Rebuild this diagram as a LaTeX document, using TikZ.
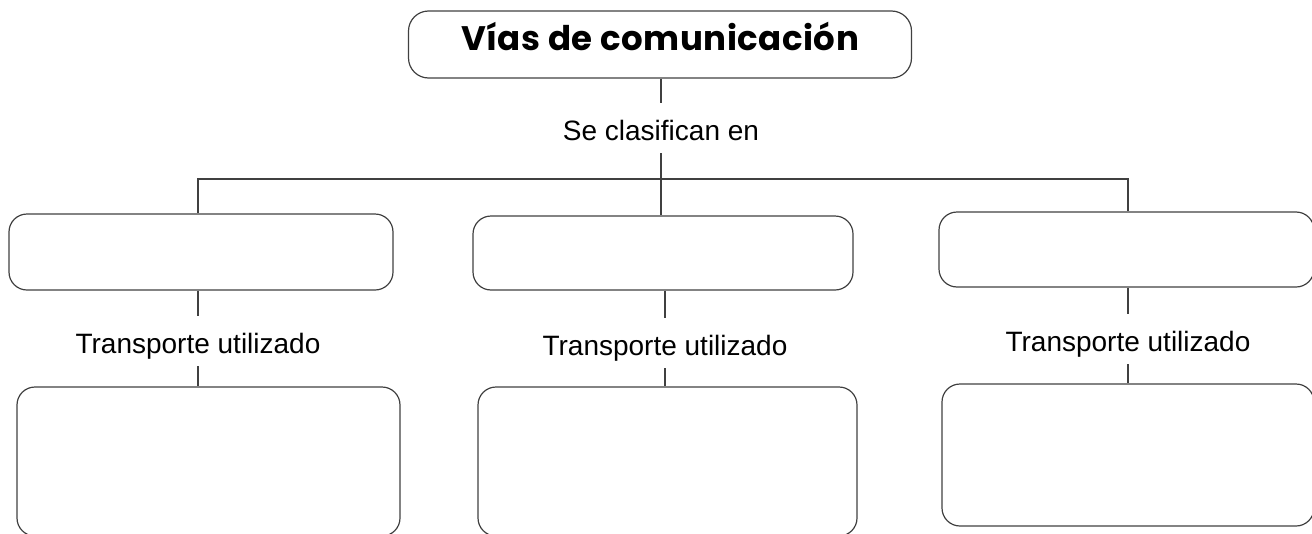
\documentclass[tikz,border=0pt]{standalone}
\usepackage{fontspec}
\setmainfont{Liberation Sans}
\newfontfamily\titulofont{Poppins}[LetterSpace=1.5]
\usetikzlibrary{positioning}

\begin{document}
\begin{tikzpicture}[x=1pt, y=-1pt]
			\tikzset{%
				caja/.style={rectangle, rounded corners=18pt, draw=black!75, line width=1.2pt, inner sep=0pt},
				titulo/.style={caja, rounded corners=20pt, minimum width=503pt, minimum height=67pt, font=\titulofont\bfseries\fontsize{34}{40}\selectfont, text height=20pt, text depth=9pt},
				etiqueta/.style={font=\fontsize{28}{33}\selectfont, text height=30pt, text depth=6pt, inner xsep=2pt, inner ysep=7pt, anchor=base},
				linea/.style={draw=black!75, line width=1.1pt}
			}
			\useasboundingbox (0,0) rectangle (1312,533);
			\node[titulo](tit) at (660,44.5){Vías de comunicación};
			\node[etiqueta](clasif) at (661,140){Se clasifican en};
			\coordinate (rama) at (661,179);
			\node[caja, minimum width=384pt, minimum height=76pt](a1) at (201,252){};
			\node[caja, minimum width=380pt, minimum height=74pt](b1) at (663,253){};
			\node[caja, minimum width=375pt, minimum height=75pt](c1) at (1126.5,249.5){};
			\node[etiqueta](a1t) at (198,353){Transporte utilizado};
			\node[etiqueta](b1t) at (665,355){Transporte utilizado};
			\node[etiqueta](c1t) at (1128,351){Transporte utilizado};
			\node[caja, minimum width=383pt, minimum height=149pt](a2) at (208.5,461.5){};
			\node[caja, minimum width=379pt, minimum height=149pt](b2) at (667.5,461.5){};
			\node[caja, minimum width=372pt, minimum height=142pt](c2) at (1128,455){};
			\draw[linea] (tit.south -| clasif) -- (clasif);
			\draw[linea] (clasif) -- (rama) -- (rama |- b1.north);
			\draw[linea] (rama) -| (a1t |- a1.north);
			\draw[linea] (rama) -| (c1t |- c1.north);
			\foreach \c in {a,b,c}{
				\draw[linea] (\c1.south -| \c1t) -- (\c1t);
				\draw[linea] (\c1t) -- (\c1t |- \c2.north);
			}
		\end{tikzpicture}
\end{document}
